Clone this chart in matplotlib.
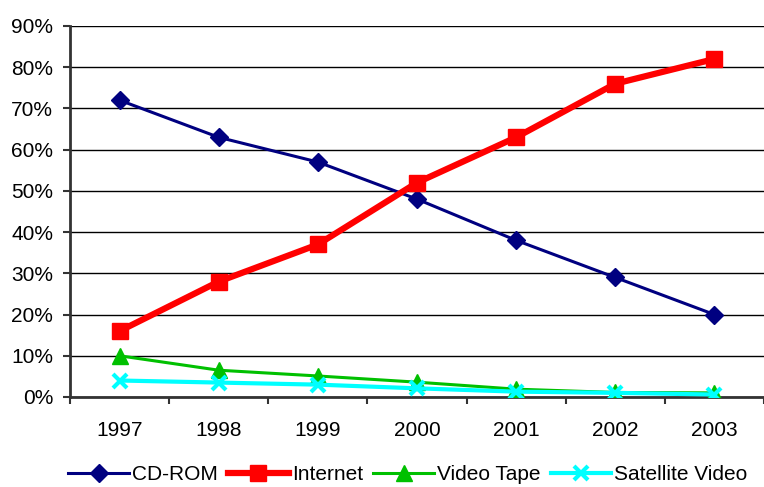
import matplotlib
matplotlib.use("Agg")
import matplotlib.pyplot as plt
from matplotlib.ticker import FuncFormatter

plt.rcParams['font.family'] = ['Liberation Sans', 'DejaVu Sans']

years = ["1997", "1998", "1999", "2000", "2001", "2002", "2003"]
cd_rom = [72, 63, 57, 48, 38, 29, 20]
internet = [16, 28, 37, 52, 63, 76, 82]
video_tape = [10, 6.5, 5.1, 3.6, 1.9, 1.1, 1.0]
satellite = [4.0, 3.5, 3.0, 2.1, 1.3, 1.0, 0.6]

fig = plt.figure(figsize=(7.64, 4.87), dpi=100)
ax = fig.add_axes([70 / 764, 90 / 487, 694 / 764, 371 / 487])

x = list(range(len(years)))
ax.plot(x, cd_rom, color="#000080", lw=2.2, marker="D", ms=9, label="CD-ROM", zorder=3)
ax.plot(x, internet, color="#ff0000", lw=4.5, marker="s", ms=12, label="Internet", zorder=4)
ax.plot(x, video_tape, color="#00c000", lw=2.2, marker="^", ms=11, label="Video Tape", zorder=3)
ax.plot(x, satellite, color="#00ffff", lw=3, marker="x", ms=10, mew=3,
        label="Satellite Video", zorder=3)

ax.set_ylim(0, 90)
ax.set_yticks(range(0, 91, 10))
ax.yaxis.set_major_formatter(FuncFormatter(lambda v, p: f"{int(v)}%"))
ax.set_xlim(-0.5, 6.44)
ax.set_xticks(x)
ax.set_xticklabels(years)
ax.set_xticks([i - 0.5 for i in range(8)], minor=True)
ax.tick_params(axis="x", which="major", length=0, pad=17, labelsize=15)
ax.tick_params(axis="x", which="minor", length=5, width=1.5, color="#333333")
ax.tick_params(axis="y", length=5, width=1.5, color="#333333", labelsize=15, pad=7)

ax.grid(axis="y", color="black", lw=1)
ax.set_axisbelow(True)
for s in ["top", "right"]:
    ax.spines[s].set_visible(False)
ax.spines["left"].set_color("#333333")
ax.spines["left"].set_linewidth(2)
ax.spines["bottom"].set_color("#333333")
ax.spines["bottom"].set_linewidth(2)

ax.legend(loc="center", bbox_to_anchor=(0.487, -0.21), ncol=4, frameon=False,
          fontsize=15, handlelength=2.9, handletextpad=0.15, columnspacing=0.5,
          borderpad=0, borderaxespad=0)

fig.savefig("out.png", dpi=100)
